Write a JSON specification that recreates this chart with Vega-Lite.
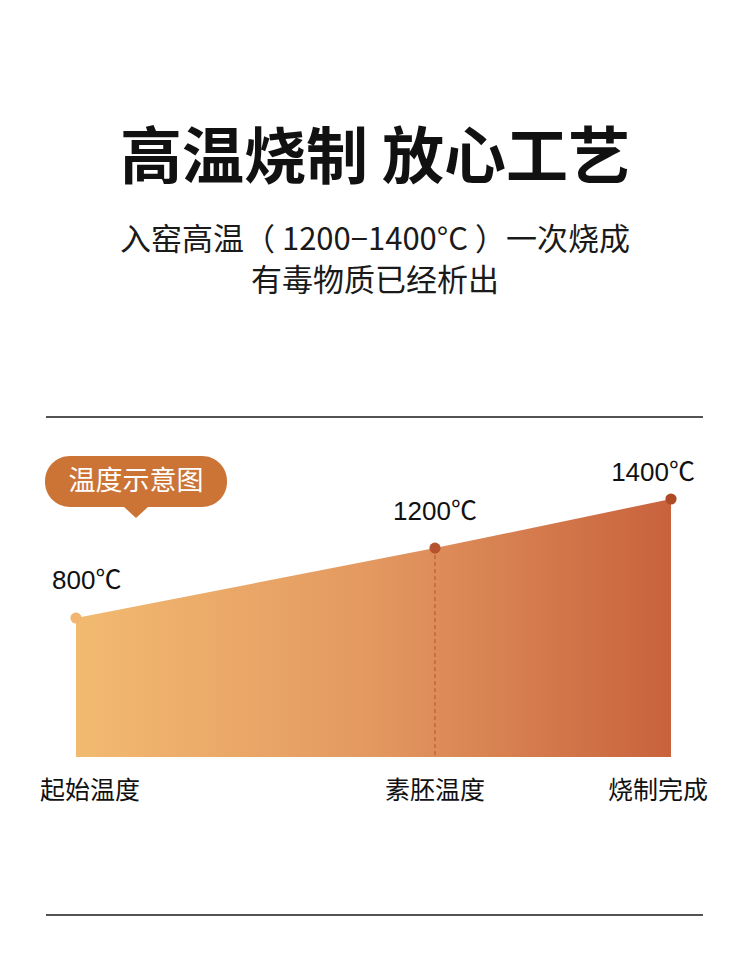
{
  "$schema": "https://vega.github.io/schema/vega-lite/v6.json",
  "autosize": "none",
  "width": 750,
  "height": 568,
  "padding": {"left": 0, "right": 0, "top": 400, "bottom": 0},
  "background": "#ffffff",
  "config": {"view": {"stroke": null}, "font": "Noto Sans CJK SC"},
  "title": {
    "text": "高温烧制 放心工艺",
    "subtitle": ["入窑高温（ 1200−1400°C ）一次烧成", "有毒物质已经析出"],
    "anchor": "middle",
    "frame": "group",
    "orient": "top",
    "offset": 102,
    "font": "Noto Sans CJK SC",
    "fontSize": 62,
    "fontWeight": "bold",
    "color": "#111111",
    "subtitleFont": "Noto Sans CJK SC",
    "subtitleFontSize": 31,
    "subtitleFontWeight": "normal",
    "subtitleColor": "#1a1a1a",
    "subtitlePadding": 34,
    "subtitleLineHeight": 41
  },
  "datasets": {
    "stages": [
      {"stage": "起始温度", "temp": "800℃", "pos": 0, "level": 53.88},
      {"stage": "素胚温度", "temp": "1200℃", "pos": 0.60336, "level": 80.97},
      {"stage": "烧制完成", "temp": "1400℃", "pos": 1, "level": 100}
    ],
    "dividers": [
      {"line": "top", "from": -0.05042, "to": 1.05378, "level": 131.78},
      {"line": "bottom", "from": -0.05042, "to": 1.05378, "level": -61.24}
    ],
    "badge": [
      {"badge": "温度示意图", "left": -0.0521, "right": 0.25378, "center": 0.10084, "top": 116.67, "bottom": 96.9, "mid": 106.59, "tip": 94.96}
    ]
  },
  "layer": [
    {
      "data": {"name": "stages"},
      "mark": {
        "type": "area",
        "fill": {
          "gradient": "linear",
          "x1": 0, "y1": 0, "x2": 1, "y2": 0,
          "stops": [
            {"offset": 0, "color": "#F2BA71"},
            {"offset": 0.5, "color": "#E39860"},
            {"offset": 1, "color": "#C8623D"}
          ]
        }
      },
      "encoding": {
        "x": {"field": "pos", "type": "quantitative", "scale": {"domain": [-0.12773, 1.13277], "nice": false, "zero": false}, "axis": null},
        "y": {"field": "level", "type": "quantitative", "scale": {"domain": [-81.78, 138.37], "nice": false, "zero": false}, "axis": null},
        "y2": {"datum": 0}
      }
    },
    {
      "data": {"name": "stages"},
      "transform": [{"filter": "datum.stage === '素胚温度'"}],
      "mark": {"type": "rule", "color": "#B5532E", "strokeWidth": 1, "strokeDash": [4, 3]},
      "encoding": {
        "x": {"field": "pos", "type": "quantitative"},
        "y": {"field": "level", "type": "quantitative"},
        "y2": {"datum": 0}
      }
    },
    {
      "data": {"name": "stages"},
      "mark": {"type": "point", "filled": true, "opacity": 1, "size": 125},
      "encoding": {
        "x": {"field": "pos", "type": "quantitative"},
        "y": {"field": "level", "type": "quantitative"},
        "color": {
          "field": "stage", "type": "nominal", "legend": null,
          "scale": {"domain": ["起始温度", "素胚温度", "烧制完成"], "range": ["#F1B570", "#B5532E", "#AF4A27"]}
        }
      }
    },
    {
      "data": {"name": "stages"},
      "transform": [{"filter": "datum.stage === '起始温度'"}],
      "mark": {"type": "text", "align": "left", "baseline": "middle", "dx": -24, "dy": -37, "fontSize": 26, "font": "Liberation Sans, Noto Sans CJK SC", "color": "#111111"},
      "encoding": {"x": {"field": "pos", "type": "quantitative"}, "y": {"field": "level", "type": "quantitative"}, "text": {"field": "temp"}}
    },
    {
      "data": {"name": "stages"},
      "transform": [{"filter": "datum.stage === '素胚温度'"}],
      "mark": {"type": "text", "align": "center", "baseline": "middle", "dx": 0, "dy": -36, "fontSize": 26, "font": "Liberation Sans, Noto Sans CJK SC", "color": "#111111"},
      "encoding": {"x": {"field": "pos", "type": "quantitative"}, "y": {"field": "level", "type": "quantitative"}, "text": {"field": "temp"}}
    },
    {
      "data": {"name": "stages"},
      "transform": [{"filter": "datum.stage === '烧制完成'"}],
      "mark": {"type": "text", "align": "right", "baseline": "middle", "dx": 24, "dy": -26, "fontSize": 26, "font": "Liberation Sans, Noto Sans CJK SC", "color": "#111111"},
      "encoding": {"x": {"field": "pos", "type": "quantitative"}, "y": {"field": "level", "type": "quantitative"}, "text": {"field": "temp"}}
    },
    {
      "data": {"name": "stages"},
      "transform": [{"filter": "datum.stage === '起始温度'"}],
      "mark": {"type": "text", "align": "left", "baseline": "middle", "dx": -36, "dy": 34, "fontSize": 25, "color": "#111111"},
      "encoding": {"x": {"field": "pos", "type": "quantitative"}, "y": {"datum": 0}, "text": {"field": "stage"}}
    },
    {
      "data": {"name": "stages"},
      "transform": [{"filter": "datum.stage === '素胚温度'"}],
      "mark": {"type": "text", "align": "center", "baseline": "middle", "dx": 0, "dy": 34, "fontSize": 25, "color": "#111111"},
      "encoding": {"x": {"field": "pos", "type": "quantitative"}, "y": {"datum": 0}, "text": {"field": "stage"}}
    },
    {
      "data": {"name": "stages"},
      "transform": [{"filter": "datum.stage === '烧制完成'"}],
      "mark": {"type": "text", "align": "right", "baseline": "middle", "dx": 37, "dy": 34, "fontSize": 25, "color": "#111111"},
      "encoding": {"x": {"field": "pos", "type": "quantitative"}, "y": {"datum": 0}, "text": {"field": "stage"}}
    },
    {
      "data": {"name": "dividers"},
      "mark": {"type": "rule", "color": "#1a1a1a", "strokeWidth": 1.5},
      "encoding": {
        "x": {"field": "from", "type": "quantitative"},
        "x2": {"field": "to"},
        "y": {"field": "level", "type": "quantitative"}
      }
    },
    {
      "data": {"name": "badge"},
      "mark": {"type": "rect", "color": "#CB7436", "cornerRadius": 25},
      "encoding": {
        "x": {"field": "left", "type": "quantitative"},
        "x2": {"field": "right"},
        "y": {"field": "top", "type": "quantitative"},
        "y2": {"field": "bottom"}
      }
    },
    {
      "data": {"name": "badge"},
      "mark": {"type": "point", "filled": true, "opacity": 1, "color": "#CB7436", "shape": "M-1,-0.46L1,-0.46L0,0.46Z", "size": 676},
      "encoding": {
        "x": {"field": "center", "type": "quantitative"},
        "y": {"field": "tip", "type": "quantitative"}
      }
    },
    {
      "data": {"name": "badge"},
      "mark": {"type": "text", "align": "center", "baseline": "middle", "fontSize": 27, "color": "#ffffff"},
      "encoding": {
        "x": {"field": "center", "type": "quantitative"},
        "y": {"field": "mid", "type": "quantitative"},
        "text": {"field": "badge"}
      }
    }
  ]
}
